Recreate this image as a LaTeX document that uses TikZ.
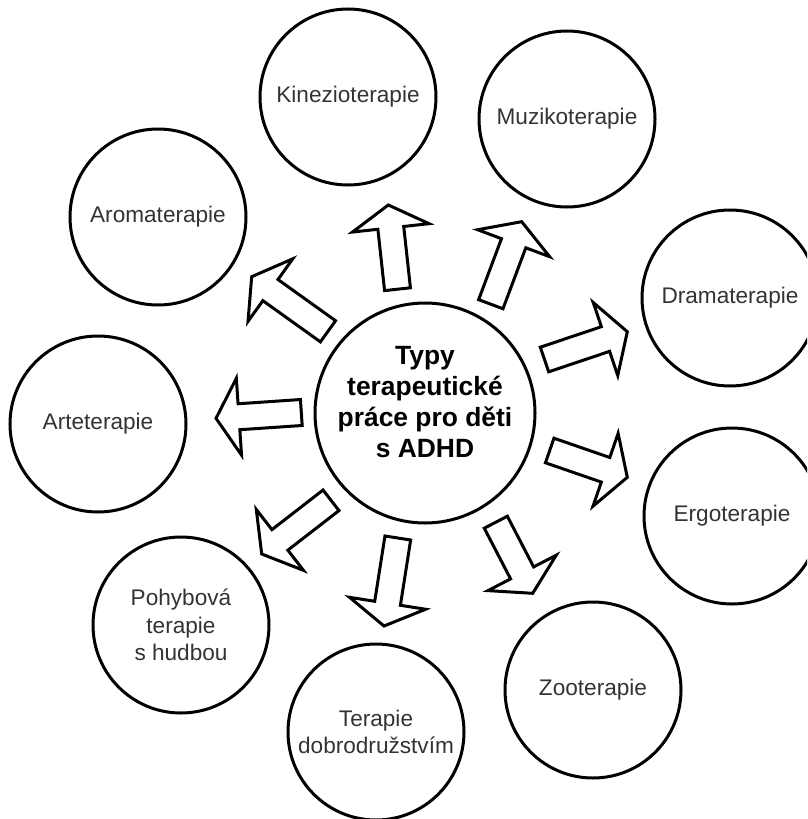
\documentclass[tikz,border=0pt]{standalone}
\usepackage{fontspec}
\setmainfont{Liberation Sans}
\usetikzlibrary{calc}
\tikzset{
  circ/.style={circle, draw=black, line width=3pt, minimum size=176pt, inner sep=0pt,
    text=black!80, font=\fontsize{22.6pt}{27.5pt}\selectfont, align=center},
  bigcirc/.style={circle, draw=black, line width=3pt, minimum size=220pt, inner sep=0pt},
  midtxt/.style={align=center, text=black, font=\bfseries\fontsize{26.4pt}{31pt}\selectfont},
  barrow/.style={draw=black, line width=3pt, line join=miter, fill=white},
}
\newcommand\blockarr[3]{%
  \coordinate (#1b) at ($(#3)!23pt!(#2)$);
  \draw[barrow] ($(#2)!13pt!90:(#3)$) -- ($(#1b)!13pt!90:(#3)$) -- ($(#1b)!38.5pt!90:(#3)$)
    -- (#3) -- ($(#1b)!38.5pt!-90:(#3)$) -- ($(#1b)!13pt!-90:(#3)$) -- ($(#2)!13pt!-90:(#3)$) -- cycle;}
\begin{document}
\begin{tikzpicture}[x=1pt,y=-1pt]
\useasboundingbox (0,0) rectangle (807,819);
\fill[white] (0,0) rectangle (807,819);
\clip (0,0) rectangle (807,819);
% outer circles
\node[circ] (kin) at (348,97) {Kinezioterapie};
\node[circ] (muz) at (567,119) {Muzikoterapie};
\node[circ] (aro) at (158,217) {Aromaterapie};
\node[circ] (dra) at (730,298) {Dramaterapie};
\node[circ] (art) at (98,424) {Arteterapie};
\node[circ] (erg) at (732,516) {Ergoterapie};
\node[circ] (poh) at (181,625) {Pohybová\\terapie\\s hudbou};
\node[circ] (ter) at (376,732) {Terapie\\dobrodružstvím};
\node[circ] (zoo) at (593,690) {Zooterapie};
% centre
\node[bigcirc] (mid) at (425,413) {};
\node[midtxt] (midtext) at (425,402) {Typy\\terapeutické\\práce pro děti\\s ADHD};
% arrow end points
\coordinate (kinT) at (397.5,289.2); \coordinate (kinH) at (388.3,205);
\coordinate (muzT) at (490.8,304.2); \coordinate (muzH) at (521.7,221.7);
\coordinate (draT) at (544.5,359.5); \coordinate (draH) at (627.3,331.7);
\coordinate (ergT) at (549.7,450.5); \coordinate (ergH) at (627.3,477.3);
\coordinate (zooT) at (495.8,522.2); \coordinate (zooH) at (532.7,593.3);
\coordinate (terT) at (397.8,538);   \coordinate (terH) at (384,626);
\coordinate (pohT) at (331,500.3);   \coordinate (pohH) at (261.7,554);
\coordinate (artT) at (301.3,412.5); \coordinate (artH) at (216,418.3);
\coordinate (aroT) at (328,331.3);   \coordinate (aroH) at (251.7,276.7);
\blockarr{kinA}{kinT}{kinH}
\blockarr{muzA}{muzT}{muzH}
\blockarr{draA}{draT}{draH}
\blockarr{ergA}{ergT}{ergH}
\blockarr{zooA}{zooT}{zooH}
\blockarr{terA}{terT}{terH}
\blockarr{pohA}{pohT}{pohH}
\blockarr{artA}{artT}{artH}
\blockarr{aroA}{aroT}{aroH}
\end{tikzpicture}
\end{document}
